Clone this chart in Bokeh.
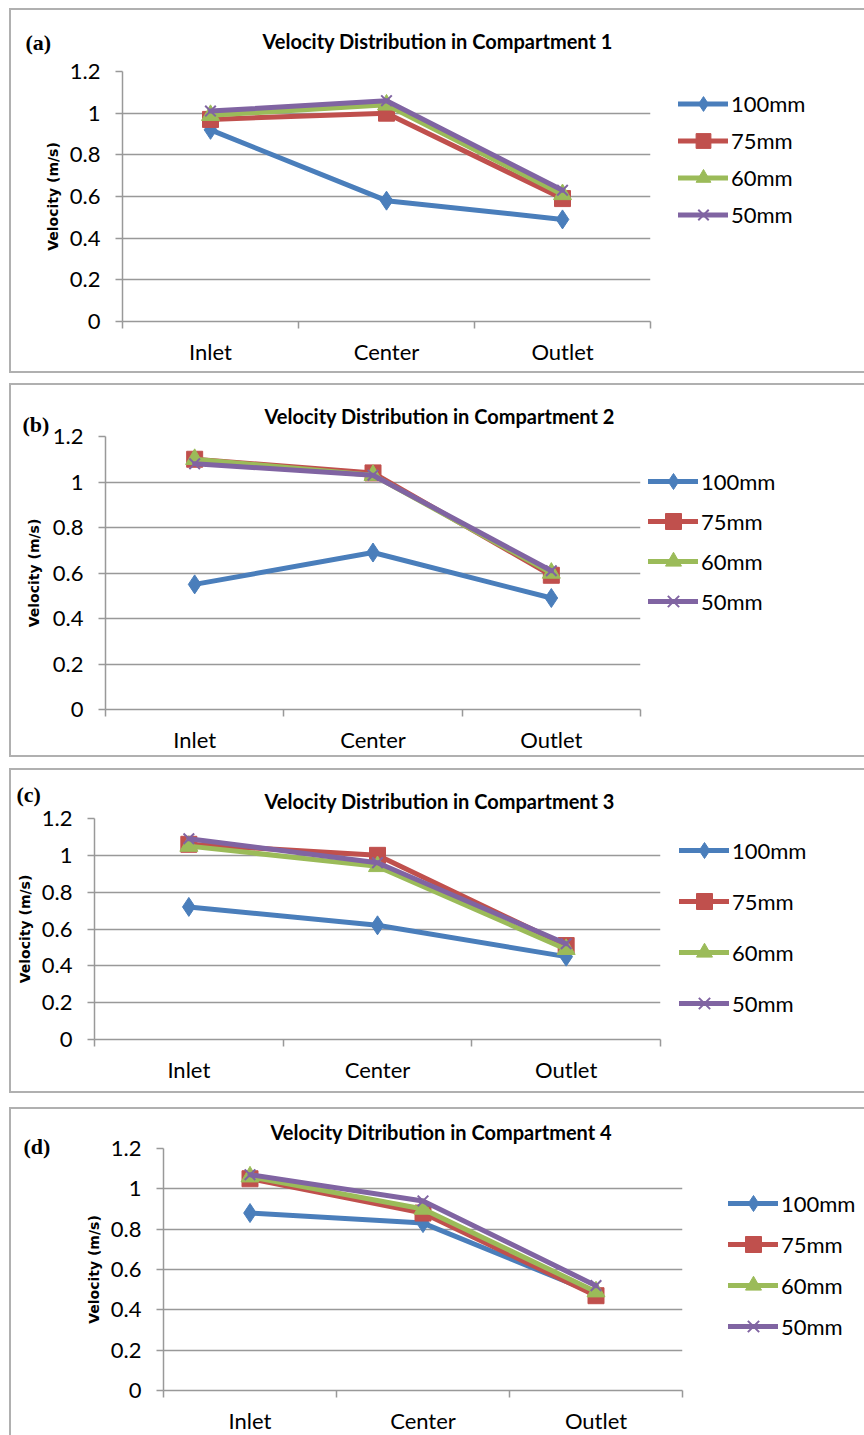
from bokeh.plotting import figure
from bokeh.models import Range1d, FixedTicker, Legend, LegendItem, Label, Title
from bokeh.embed import file_html
from bokeh.resources import INLINE

# ---------------- data ----------------
categories = ["Inlet", "Center", "Outlet"]
series_names = ["100mm", "75mm", "60mm", "50mm"]
y_ticks = [0, 0.2, 0.4, 0.6, 0.8, 1.0, 1.2]
y_tick_labels = ["0", "0.2", "0.4", "0.6", "0.8", "1", "1.2"]
y_axis_title = "Velocity (m/s)"

chart_titles = [
    "Velocity Distribution  in Compartment 1",
    "Velocity Distribution in Compartment 2",
    "Velocity Distribution in Compartment 3",
    "Velocity Ditribution in Compartment 4",
]
panel_tags = ["(a)", "(b)", "(c)", "(d)"]

comp1_100mm = [0.92, 0.58, 0.49]
comp1_75mm = [0.97, 1.00, 0.59]
comp1_60mm = [0.99, 1.04, 0.61]
comp1_50mm = [1.01, 1.06, 0.63]

comp2_100mm = [0.55, 0.69, 0.49]
comp2_75mm = [1.10, 1.04, 0.59]
comp2_60mm = [1.10, 1.03, 0.60]
comp2_50mm = [1.08, 1.03, 0.61]

comp3_100mm = [0.72, 0.62, 0.45]
comp3_75mm = [1.06, 1.00, 0.51]
comp3_60mm = [1.05, 0.94, 0.49]
comp3_50mm = [1.09, 0.96, 0.52]

comp4_100mm = [0.88, 0.83, 0.48]
comp4_75mm = [1.05, 0.88, 0.47]
comp4_60mm = [1.06, 0.90, 0.49]
comp4_50mm = [1.07, 0.94, 0.52]

compartments = [
    [comp1_100mm, comp1_75mm, comp1_60mm, comp1_50mm],
    [comp2_100mm, comp2_75mm, comp2_60mm, comp2_50mm],
    [comp3_100mm, comp3_75mm, comp3_60mm, comp3_50mm],
    [comp4_100mm, comp4_75mm, comp4_60mm, comp4_50mm],
]

# ---------------- style ----------------
colors = ["#4A7EBB", "#C0504D", "#9BBB59", "#8064A2"]
markers = ["diamond", "square", "triangle", "x"]
marker_sizes = [19, 16, 18, 15]
GRID = "#999999"
BOX = "2px solid #b0b0b0"
FONT = "Lato"
TICK_PX = 22

# page geometry of each panel (pixels)
geom = [
    dict(gap=8, canvas_h=361, bottom_border=True, fl=122, fr=650, ft=71, fb=321,
         tleft=262, tcy=40, tag=(25, 42), ylab=53, lx=678, ly0=103, gh=37, sp=0),
    dict(gap=10, canvas_h=370, bottom_border=True, fl=105, fr=640, ft=436, fb=709,
         tleft=264, tcy=415, tag=(22, 424), ylab=34, lx=648, ly0=481, gh=40, sp=0),
    dict(gap=11, canvas_h=321, bottom_border=True, fl=94, fr=660, ft=818, fb=1039,
         tleft=264, tcy=800, tag=(16, 794), ylab=26, lx=679, ly0=850, gh=40, sp=11),
    dict(gap=14, canvas_h=326, bottom_border=False, fl=163, fr=682, ft=1148, fb=1390,
         tleft=270, tcy=1131, tag=(23, 1146), ylab=94, lx=728, ly0=1203, gh=40, sp=1),
]

CANVAS_LEFT = 11
CANVAS_W = 853
Y_MAX = 1.2

figs = []
page_top = 0
xs = [i + 0.5 for i in range(len(categories))]
for k, g in enumerate(geom):
    canvas_top = page_top + g["gap"] + 2
    fw = g["fr"] - g["fl"]
    fh = g["fb"] - g["ft"]
    mbl = g["fl"] - CANVAS_LEFT
    mbt = g["ft"] - canvas_top
    mbb = g["canvas_h"] - mbt - fh
    mbr = CANVAS_W - mbl - fw

    styles = {"border-top": BOX, "border-left": BOX, "vertical-align": "top"}
    if g["bottom_border"]:
        styles["border-bottom"] = BOX

    title = Title(text=chart_titles[k], align="left", offset=g["tleft"] - g["fl"],
                  vertical_align="top",
                  standoff=max(0, int(round(2 * (g["ft"] - g["tcy"] - 14)))),
                  text_font=FONT, text_font_style="bold", text_font_size="20px",
                  text_color="#000000")

    p = figure(frame_width=fw, frame_height=fh,
               min_border_left=mbl, min_border_right=mbr,
               min_border_top=mbt, min_border_bottom=mbb,
               x_range=Range1d(0, len(categories)), y_range=Range1d(0, Y_MAX),
               output_backend="svg", toolbar_location=None, title=title,
               outline_line_color=None, background_fill_color="white",
               border_fill_color="white", styles=styles)
    p.margin = (g["gap"], 0, 0, 9)

    # x axis: labels at category centres, tick marks at category boundaries
    xa = p.xaxis[0]
    xa.ticker = FixedTicker(ticks=xs, minor_ticks=list(range(len(categories) + 1)))
    xa.major_label_overrides = dict(zip(xs, categories))
    xa.major_tick_out = 0
    xa.major_tick_in = 0
    xa.minor_tick_out = 7
    xa.minor_tick_in = 0
    xa.minor_tick_line_color = GRID
    xa.minor_tick_line_width = 1.5
    xa.axis_line_color = GRID
    xa.axis_line_width = 1.5
    xa.major_label_standoff = 9
    xa.major_label_text_font = FONT
    xa.major_label_text_font_size = f"{TICK_PX}px"
    xa.major_label_text_color = "#000000"

    ya = p.yaxis[0]
    ya.ticker = FixedTicker(ticks=y_ticks)
    ya.major_label_overrides = dict(zip(y_ticks, y_tick_labels))
    ya.major_tick_out = 7
    ya.major_tick_in = 0
    ya.minor_tick_line_color = None
    ya.major_tick_line_color = GRID
    ya.major_tick_line_width = 1.5
    ya.axis_line_color = GRID
    ya.axis_line_width = 1.5
    ya.major_label_standoff = 15
    ya.major_label_text_font = FONT
    ya.major_label_text_font_size = f"{TICK_PX}px"
    ya.major_label_text_color = "#000000"
    ya.axis_label = y_axis_title
    ya.axis_label_text_font = "DejaVu Sans"
    ya.axis_label_text_font_style = "bold"
    ya.axis_label_text_font_size = "14px"
    ya.axis_label_text_color = "#000000"
    ya.axis_label_standoff = max(0, int(round(g["fl"] - 50 - g["ylab"] - 12.5)))

    p.xgrid.visible = False
    p.ygrid.ticker = FixedTicker(ticks=y_ticks)
    p.ygrid.grid_line_color = GRID
    p.ygrid.grid_line_width = 1.5

    items = []
    for s, name in enumerate(series_names):
        vals = compartments[k][s]
        lr = p.line(xs, vals, line_color=colors[s], line_width=5,
                    line_join="round", line_cap="round")
        if markers[s] == "x":
            mr = p.scatter(xs, vals, marker="x", size=marker_sizes[s],
                           line_color=colors[s], line_width=2)
        else:
            mr = p.scatter(xs, vals, marker=markers[s], size=marker_sizes[s],
                           fill_color=colors[s], line_color=colors[s], line_width=1)
        items.append(LegendItem(label=name, renderers=[lr, mr]))

    n = len(series_names)
    gh = g["gh"]
    leg_h = n * gh + (n - 1) * g["sp"]
    leg_top = g["ly0"] - gh / 2
    lx = g["lx"] - g["fr"]
    ly = g["fb"] - (leg_top + leg_h)
    legend = Legend(items=items, location=(lx, ly), orientation="vertical",
                    glyph_width=50, glyph_height=gh, label_standoff=3,
                    spacing=g["sp"], padding=0, margin=0,
                    border_line_color=None, background_fill_alpha=0,
                    label_text_font=FONT, label_text_font_size=f"{TICK_PX}px",
                    label_text_color="#000000")
    p.add_layout(legend, "right")

    # panel tag, placed through the plot's own scales (outside the frame)
    tag_x = (g["tag"][0] - g["fl"]) / fw * len(categories)
    tag_y = (g["fb"] - g["tag"][1]) / fh * Y_MAX
    tag = Label(x=tag_x, y=tag_y, x_units="data", y_units="data", text=panel_tags[k],
                text_align="left", text_baseline="middle",
                text_font="Liberation Serif", text_font_style="bold",
                text_font_size="22px", text_color="#000000")
    p.add_layout(tag, "right")

    figs.append(p)
    page_top = canvas_top + g["canvas_h"] + (2 if g["bottom_border"] else 0)

open("out.html", "w").write(file_html(figs, INLINE))
